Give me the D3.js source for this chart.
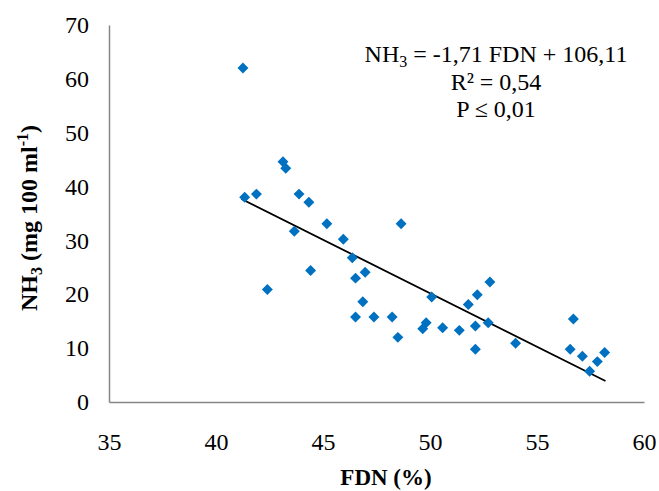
<!DOCTYPE html>
<html><head><meta charset="utf-8">
<script src="https://cdn.jsdelivr.net/npm/d3@7"></script>
<style>body{margin:0;background:#fff}svg{display:block}text{font-family:"Liberation Serif","Times New Roman",serif}</style>
</head><body>
<svg id="c" width="659" height="491"></svg>
<script>
const fdn = [41.26,43.13,43.26,41.34,41.89,43.88,44.34,45.18,48.65,43.66,45.95,46.37,46.97,46.52,44.42,42.40,46.86,46.52,47.38,48.23,48.50,49.82,49.66,50.08,50.59,51.37,52.12,52.12,52.72,51.79,52.21,52.80,54.00,56.70,56.55,57.12,57.46,57.82,58.16];
const nh3 = [62.0,44.6,43.4,38.0,38.6,38.6,37.1,33.1,33.1,31.7,30.2,26.8,24.1,23.0,24.4,20.9,18.6,15.8,15.8,15.8,12.0,14.7,13.6,19.5,13.8,13.3,14.1,9.8,14.7,18.1,19.9,22.3,10.9,15.4,9.8,8.5,5.7,7.5,9.2];
const trendX = [41.19, 58.2];
const trendY = [37.7, 3.9];
const xTicks = [35,40,45,50,55,60];
const yTicks = [0,10,20,30,40,50,60,70];

const svg = d3.select("#c");
const x = d3.scaleLinear().domain([35,60]).range([109,644]);
const y = d3.scaleLinear().domain([0,70]).range([402,25]);

const axisColor = "#868686";
svg.append("g").attr("transform","translate(0,402)")
  .call(d3.axisBottom(x).tickValues(xTicks).tickSize(0).tickPadding(31))
  .call(g=>{g.select(".domain").attr("stroke",axisColor).attr("stroke-width",1.5);
    g.selectAll("text").attr("font-size",24).attr("fill","#000").attr("font-family","Liberation Serif");});
svg.append("g").attr("transform","translate(109,0)")
  .call(d3.axisLeft(y).tickValues(yTicks).tickSize(0).tickPadding(20))
  .call(g=>{g.select(".domain").attr("stroke",axisColor).attr("stroke-width",1.5);
    g.selectAll("text").attr("font-size",24).attr("fill","#000").attr("font-family","Liberation Serif");});

const line = d3.line().x(d=>x(d[0])).y(d=>y(d[1]));
svg.append("path").datum(trendX.map((v,i)=>[v,trendY[i]]))
  .attr("d",line).attr("stroke","#000").attr("stroke-width",1.8).attr("fill","none");

const sym = d3.symbol().type(d3.symbolSquare).size(60);
svg.append("g").selectAll("path").data(fdn.map((v,i)=>[v,nh3[i]])).join("path")
  .attr("d",sym).attr("fill","#0070C0")
  .attr("transform",d=>`translate(${x(d[0])},${y(d[1])}) rotate(45)`);

const eq = svg.append("g").attr("font-size",24).attr("fill","#000").attr("text-anchor","middle");
const t1 = eq.append("text").attr("x",496).attr("y",62);
t1.append("tspan").text("NH");
t1.append("tspan").attr("font-size",16).attr("dy",5).text("3");
t1.append("tspan").attr("dy",-5).text(" = -1,71 FDN  + 106,11");
eq.append("text").attr("x",496).attr("y",90).text("R² = 0,54");
eq.append("text").attr("x",496).attr("y",117).text("P ≤ 0,01");

svg.append("text").attr("x",386).attr("y",485).attr("text-anchor","middle")
  .attr("font-size",23).attr("font-weight","bold").text("FDN (%)");
const yl = svg.append("text").attr("transform","translate(37,218) rotate(-90)")
  .attr("text-anchor","middle").attr("font-size",24).attr("font-weight","bold");
yl.append("tspan").text("NH");
yl.append("tspan").attr("font-size",16).attr("dy",5).text("3");
yl.append("tspan").attr("dy",-5).text(" (mg 100 ml");
yl.append("tspan").attr("font-size",16).attr("dy",-9).text("-1");
yl.append("tspan").attr("dy",9).text(")");
</script>
</body></html>
